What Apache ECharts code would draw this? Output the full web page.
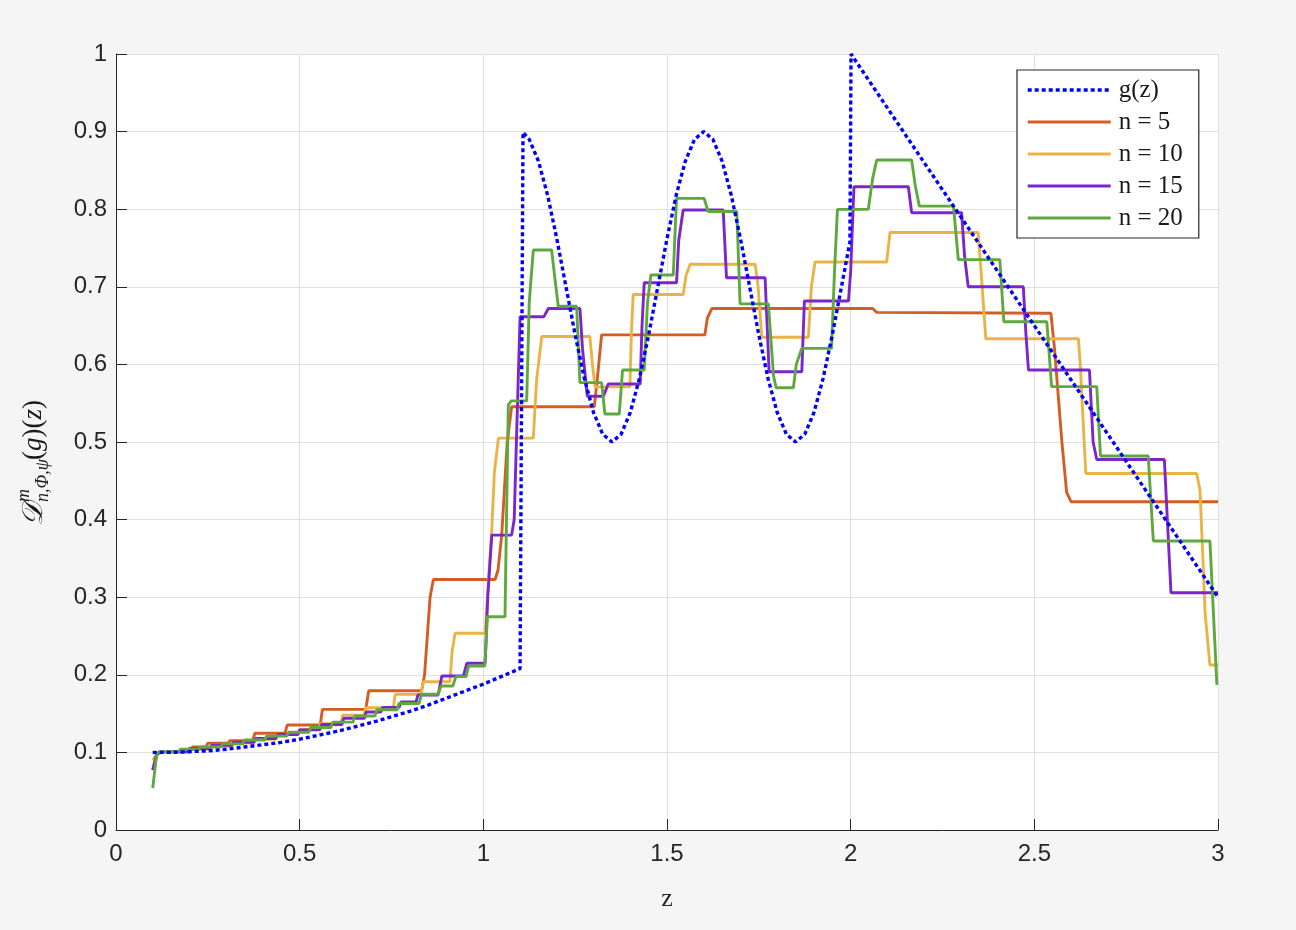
<!DOCTYPE html>
<html>
<head>
<meta charset="utf-8">
<script src="https://cdn.jsdelivr.net/npm/echarts@6/dist/echarts.min.js"></script>
<style>
html,body{margin:0;padding:0;background:#f5f5f5;}
#chart{width:1296px;height:930px;}
</style>
</head>
<body>
<div id="chart"></div>
<script>
// ---- data ----
const seriesNames = ['g(z)', 'n = 5', 'n = 10', 'n = 15', 'n = 20'];
const xTicks = [0, 0.5, 1, 1.5, 2, 2.5, 3];
const yTicks = [0, 0.1, 0.2, 0.3, 0.4, 0.5, 0.6, 0.7, 0.8, 0.9, 1];

const gData = [
  [0.10,0.100],[0.15,0.100],[0.20,0.101],[0.25,0.102],[0.30,0.104],[0.35,0.107],[0.40,0.110],
  [0.45,0.113],[0.50,0.117],[0.55,0.122],[0.60,0.127],[0.65,0.133],[0.70,0.139],[0.75,0.146],
  [0.80,0.153],[0.85,0.161],[0.90,0.170],[0.95,0.179],[1.00,0.188],[1.05,0.198],[1.10,0.208],
  [1.108,0.899],[1.125,0.890],[1.15,0.862],[1.175,0.818],[1.20,0.762],[1.225,0.700],[1.25,0.638],
  [1.275,0.582],[1.30,0.538],[1.325,0.510],[1.35,0.500],[1.375,0.510],[1.40,0.538],[1.425,0.582],
  [1.45,0.638],[1.475,0.700],[1.50,0.762],[1.525,0.818],[1.55,0.862],[1.575,0.890],[1.60,0.900],
  [1.625,0.890],[1.65,0.862],[1.675,0.818],[1.70,0.762],[1.725,0.700],[1.75,0.638],[1.775,0.582],
  [1.80,0.538],[1.825,0.510],[1.85,0.500],[1.875,0.510],[1.90,0.538],[1.925,0.582],[1.95,0.638],
  [1.975,0.700],[1.998,0.758],[2.001,1.000],[2.25,0.825],[2.50,0.650],[2.75,0.475],[3.00,0.300]
];

const n5Data = [
  [0.100,0.078],[0.112,0.097],[0.120,0.100],[0.180,0.100],[0.185,0.103],[0.203,0.103],[0.208,0.107],
  [0.245,0.107],[0.250,0.112],[0.305,0.112],[0.310,0.115],[0.372,0.115],[0.378,0.1246],[0.460,0.1246],
  [0.466,0.1353],[0.556,0.1353],[0.562,0.1555],[0.680,0.1555],[0.688,0.1795],[0.832,0.1795],
  [0.840,0.20],[0.855,0.30],[0.864,0.3228],[1.032,0.3228],[1.040,0.335],[1.050,0.38],[1.065,0.50],
  [1.077,0.5455],[1.302,0.5455],[1.310,0.58],[1.322,0.638],[1.603,0.638],[1.610,0.660],[1.622,0.672],
  [2.060,0.672],[2.071,0.667],[2.545,0.666],[2.555,0.62],[2.575,0.50],[2.588,0.435],[2.600,0.423],
  [3.000,0.423]
];

const n10Data = [
  [0.100,0.090],[0.112,0.098],[0.125,0.100],[0.200,0.100],[0.205,0.104],[0.255,0.104],[0.260,0.108],
  [0.315,0.108],[0.320,0.112],[0.375,0.112],[0.380,0.117],[0.435,0.117],[0.440,0.123],[0.495,0.123],
  [0.500,0.1297],[0.552,0.1297],[0.557,0.137],[0.612,0.137],[0.617,0.148],[0.675,0.148],[0.680,0.1576],
  [0.755,0.1576],[0.760,0.1748],[0.830,0.1748],[0.836,0.191],[0.909,0.191],[0.915,0.23],[0.923,0.2535],
  [1.005,0.2535],[1.015,0.33],[1.023,0.387],[1.030,0.46],[1.041,0.505],[1.136,0.505],[1.145,0.58],
  [1.159,0.636],[1.290,0.636],[1.297,0.60],[1.304,0.571],[1.399,0.571],[1.403,0.64],[1.408,0.690],
  [1.544,0.690],[1.552,0.715],[1.563,0.729],[1.740,0.729],[1.748,0.70],[1.758,0.635],[1.885,0.635],
  [1.893,0.70],[1.903,0.732],[2.098,0.732],[2.107,0.770],[2.347,0.770],[2.355,0.72],[2.368,0.633],
  [2.620,0.633],[2.625,0.60],[2.640,0.4595],[2.942,0.4595],[2.951,0.438],[2.958,0.36],[2.965,0.279],
  [2.978,0.2126],[3.000,0.2126]
];

const n15Data = [
  [0.100,0.077],[0.110,0.097],[0.120,0.101],[0.195,0.101],[0.200,0.105],[0.255,0.105],[0.260,0.109],
  [0.315,0.109],[0.320,0.113],[0.375,0.113],[0.380,0.118],[0.435,0.118],[0.440,0.123],[0.495,0.123],
  [0.500,0.129],[0.555,0.129],[0.560,0.136],[0.615,0.136],[0.620,0.144],[0.676,0.144],[0.681,0.152],
  [0.721,0.152],[0.726,0.158],[0.771,0.158],[0.776,0.165],[0.817,0.165],[0.822,0.174],[0.877,0.174],
  [0.887,0.1985],[0.946,0.1985],[0.955,0.2148],[1.005,0.2148],[1.012,0.30],[1.023,0.380],[1.077,0.380],
  [1.084,0.40],[1.090,0.50],[1.100,0.6615],[1.165,0.6615],[1.177,0.672],[1.263,0.672],[1.270,0.62],
  [1.283,0.559],[1.327,0.559],[1.340,0.5747],[1.427,0.5747],[1.432,0.65],[1.438,0.7053],[1.526,0.7053],
  [1.532,0.76],[1.544,0.799],[1.653,0.799],[1.662,0.7117],[1.767,0.7117],[1.778,0.5905],[1.867,0.5905],
  [1.874,0.6817],[1.994,0.6817],[2.000,0.72],[2.009,0.829],[2.157,0.829],[2.166,0.7955],[2.302,0.7955],
  [2.310,0.74],[2.320,0.700],[2.470,0.700],[2.477,0.64],[2.484,0.5928],[2.650,0.5928],[2.660,0.50],
  [2.670,0.4774],[2.854,0.4774],[2.872,0.3058],[3.000,0.3058]
];

const n20Data = [
  [0.100,0.054],[0.111,0.099],[0.120,0.101],[0.170,0.101],[0.175,0.104],[0.225,0.104],[0.230,0.107],
  [0.285,0.107],[0.290,0.111],[0.345,0.111],[0.350,0.116],[0.405,0.116],[0.410,0.121],[0.465,0.121],
  [0.470,0.126],[0.525,0.126],[0.530,0.132],[0.585,0.132],[0.590,0.139],[0.645,0.139],[0.650,0.147],
  [0.705,0.147],[0.710,0.155],[0.765,0.155],[0.770,0.163],[0.825,0.163],[0.832,0.175],[0.877,0.175],
  [0.885,0.1856],[0.917,0.1856],[0.925,0.1976],[0.953,0.1976],[0.960,0.2113],[1.004,0.2113],
  [1.011,0.2749],[1.059,0.2749],[1.063,0.40],[1.068,0.5477],[1.076,0.553],[1.118,0.553],[1.125,0.68],
  [1.136,0.7474],[1.186,0.7474],[1.195,0.71],[1.204,0.675],[1.254,0.675],[1.263,0.5765],[1.322,0.5765],
  [1.331,0.536],[1.370,0.536],[1.379,0.5928],[1.438,0.5928],[1.447,0.68],[1.456,0.7152],[1.517,0.7152],
  [1.526,0.814],[1.601,0.814],[1.612,0.797],[1.690,0.797],[1.699,0.678],[1.776,0.678],[1.790,0.585],
  [1.797,0.570],[1.844,0.570],[1.852,0.60],[1.867,0.6207],[1.948,0.6207],[1.956,0.72],[1.964,0.7998],
  [2.048,0.7998],[2.060,0.84],[2.071,0.8634],[2.166,0.8634],[2.176,0.83],[2.187,0.804],[2.280,0.804],
  [2.293,0.735],[2.406,0.735],[2.417,0.655],[2.534,0.655],[2.547,0.5713],[2.670,0.5713],[2.680,0.482],
  [2.810,0.482],[2.824,0.3724],[2.978,0.3724],[2.997,0.187]
];

// ---- chart ----
const chart = echarts.init(document.getElementById('chart'), null, {renderer: 'canvas'});
const axisColor = '#262626';
const gridColor = '#e0e0e0';
const tickFont = '"Liberation Sans", Arial, sans-serif';
const serif = '"Liberation Serif", "Times New Roman", serif';
const colors = ['#0000ff', '#d45d24', '#e9b445', '#7d25cc', '#5fa83e'];

function stepSeries(i, data) {
  return {
    name: seriesNames[i], type: 'line', data: data, showSymbol: false, symbol: 'none',
    lineStyle: {color: colors[i], width: 2.9}, itemStyle: {color: colors[i]},
    emphasis: {disabled: true}, z: 2
  };
}

const labelStyle = {fill: '#1a1a1a', textAlign: 'left', textVerticalAlign: 'middle', align: 'left', verticalAlign: 'middle'};

const option = {
  backgroundColor: '#f5f5f5',
  animation: false,
  grid: {left: 116, right: 78, top: 54, bottom: 100, show: true, backgroundColor: '#ffffff', borderWidth: 0},
  xAxis: {
    type: 'value', min: xTicks[0], max: xTicks[xTicks.length - 1], interval: 0.5,
    name: 'z', nameLocation: 'middle', nameGap: 56,
    nameTextStyle: {fontFamily: serif, fontSize: 26, color: '#262626'},
    axisLine: {show: true, onZero: false, lineStyle: {color: axisColor, width: 1}},
    axisTick: {show: true, inside: true, length: 11, lineStyle: {color: axisColor}},
    axisLabel: {fontFamily: tickFont, fontSize: 24, color: '#262626', margin: 12},
    splitLine: {show: true, lineStyle: {color: gridColor, width: 1}}
  },
  yAxis: {
    type: 'value', min: yTicks[0], max: yTicks[yTicks.length - 1], interval: 0.1,
    axisLine: {show: true, onZero: false, lineStyle: {color: axisColor, width: 1}},
    axisTick: {show: true, inside: true, length: 11, lineStyle: {color: axisColor}},
    axisLabel: {fontFamily: tickFont, fontSize: 24, color: '#262626', margin: 9},
    splitLine: {show: true, lineStyle: {color: gridColor, width: 1}}
  },
  legend: {
    data: seriesNames.map(function (n, i) {
      return {name: n, lineStyle: i === 0 ? {width: 3.4, type: [4, 3], color: colors[0]} : {width: 3, color: colors[i]}};
    }),
    orient: 'vertical', left: 1017, top: 70,
    backgroundColor: '#ffffff', borderColor: '#262626', borderWidth: 1.2, borderRadius: 0,
    padding: [7, 16, 7, 9], itemWidth: 83, itemHeight: 14, itemGap: 6,
    itemStyle: {opacity: 0},
    textStyle: {fontFamily: serif, fontSize: 25, color: '#1a1a1a', lineHeight: 26, padding: [0, 0, 0, 3]},
    selectedMode: false
  },
  graphic: [{
    type: 'group', x: 34, y: 460, rotation: Math.PI / 2,
    children: [
      {type: 'text', x: -66, y: 0, style: Object.assign({text: '𝒟', font: 'italic 29px ' + serif}, labelStyle)},
      {type: 'text', x: -42, y: -10, style: Object.assign({text: 'm', font: 'italic 18px ' + serif}, labelStyle)},
      {type: 'text', x: -42, y: 9, style: Object.assign({text: 'n,Φ,ψ', font: 'italic 18px ' + serif}, labelStyle)},
      {type: 'text', x: 0, y: 0, style: Object.assign({
        text: '{p|(}{i|g}{p|)(}{i|z}{p|)}',
        rich: {p: {fontFamily: serif, fontSize: 27, color: '#1a1a1a'}, i: {fontFamily: serif, fontStyle: 'italic', fontSize: 27, color: '#1a1a1a'}}
      }, labelStyle)}
    ]
  }],
  series: [
    {
      name: seriesNames[0], type: 'line', data: gData, showSymbol: false, symbol: 'none',
      lineStyle: {color: colors[0], width: 3.4, type: [4, 3], cap: 'butt'}, itemStyle: {color: colors[0]},
      emphasis: {disabled: true}, z: 3
    },
    stepSeries(1, n5Data),
    stepSeries(2, n10Data),
    stepSeries(3, n15Data),
    stepSeries(4, n20Data)
  ]
};
chart.setOption(option);
</script>
</body>
</html>
